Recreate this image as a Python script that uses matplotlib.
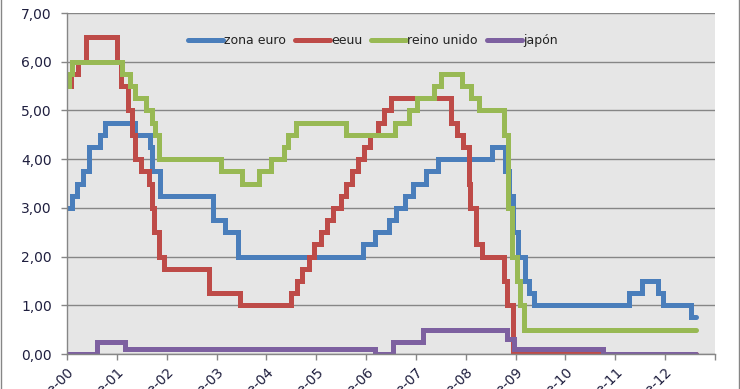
import pandas as pd
import matplotlib
matplotlib.use("Agg")
import matplotlib.pyplot as plt
from matplotlib.lines import Line2D

# fechas de cambio de tipo y nuevo valor (%)
euro_dates = ["2000-01-01", "2000-02-04", "2000-03-17", "2000-04-28", "2000-06-09",
              "2000-09-01", "2000-10-06", "2001-05-11", "2001-08-31", "2001-09-18",
              "2001-11-09", "2002-12-06", "2003-03-07", "2003-06-06", "2005-12-06",
              "2006-03-08", "2006-06-15", "2006-08-09", "2006-10-11", "2006-12-13",
              "2007-03-14", "2007-06-13", "2008-07-09", "2008-10-15", "2008-11-12",
              "2008-12-10", "2009-01-21", "2009-03-11", "2009-04-08", "2009-05-13",
              "2011-04-13", "2011-07-13", "2011-11-09", "2011-12-14", "2012-07-11",
              "2012-08-15"]
euro_vals = [3.00, 3.25, 3.50, 3.75, 4.25, 4.50, 4.75, 4.50, 4.25, 3.75,
             3.25, 2.75, 2.50, 2.00, 2.25, 2.50, 2.75, 3.00, 3.25, 3.50,
             3.75, 4.00, 4.25, 3.75, 3.25, 2.50, 2.00, 1.50, 1.25, 1.00,
             1.25, 1.50, 1.25, 1.00, 0.75, 0.75]

usa_dates = ["2000-01-01", "2000-02-02", "2000-03-21", "2000-05-16", "2001-01-03",
             "2001-01-31", "2001-03-20", "2001-04-18", "2001-05-15", "2001-06-27",
             "2001-08-21", "2001-09-17", "2001-10-02", "2001-11-06", "2001-12-11",
             "2002-11-06", "2003-06-25", "2004-06-30", "2004-08-10", "2004-09-21",
             "2004-11-10", "2004-12-14", "2005-02-02", "2005-03-22", "2005-05-03",
             "2005-06-30", "2005-08-09", "2005-09-20", "2005-11-01", "2005-12-13",
             "2006-01-31", "2006-03-28", "2006-05-10", "2006-06-29", "2007-09-18",
             "2007-10-31", "2007-12-11", "2008-01-22", "2008-01-30", "2008-03-18",
             "2008-04-30", "2008-10-08", "2008-10-29", "2008-12-16", "2012-08-15"]
usa_vals = [5.50, 5.75, 6.00, 6.50, 6.00, 5.50, 5.00, 4.50, 4.00, 3.75,
            3.50, 3.00, 2.50, 2.00, 1.75, 1.25, 1.00, 1.25, 1.50, 1.75,
            2.00, 2.25, 2.50, 2.75, 3.00, 3.25, 3.50, 3.75, 4.00, 4.25,
            4.50, 4.75, 5.00, 5.25, 4.75, 4.50, 4.25, 3.50, 3.00, 2.25,
            2.00, 1.50, 1.00, 0.00, 0.00]

uk_dates = ["2000-01-01", "2000-01-13", "2000-02-10", "2001-02-08", "2001-04-05",
            "2001-05-10", "2001-08-02", "2001-09-18", "2001-10-04", "2001-11-08",
            "2003-02-06", "2003-07-10", "2003-11-06", "2004-02-05", "2004-05-06",
            "2004-06-10", "2004-08-05", "2005-08-04", "2006-08-03", "2006-11-09",
            "2007-01-11", "2007-05-10", "2007-07-05", "2007-12-06", "2008-02-07",
            "2008-04-10", "2008-10-08", "2008-11-06", "2008-12-04", "2009-01-08",
            "2009-02-05", "2009-03-05", "2012-08-15"]
uk_vals = [5.50, 5.75, 6.00, 5.75, 5.50, 5.25, 5.00, 4.75, 4.50, 4.00,
           3.75, 3.50, 3.75, 4.00, 4.25, 4.50, 4.75, 4.50, 4.75, 5.00,
           5.25, 5.50, 5.75, 5.50, 5.25, 5.00, 4.50, 3.00, 2.00, 1.50,
           1.00, 0.50, 0.50]

jp_dates = ["2000-01-01", "2000-08-11", "2001-02-28", "2006-03-09", "2006-07-14",
            "2007-02-21", "2008-10-31", "2008-12-19", "2010-10-05", "2012-08-15"]
jp_vals = [0.00, 0.25, 0.10, 0.00, 0.25, 0.50, 0.30, 0.10, 0.00, 0.00]

names = ["zona euro", "eeuu", "reino unido", "japón"]
colors = ["#4A7EBB", "#BE4B48", "#98B954", "#7D60A0"]

years = list(range(2000, 2014))
year_labels = ["ene-%02d" % (y % 100) for y in years[:-1]] + [""]

fig = plt.figure(figsize=(7.4, 3.89), dpi=100)
ax = fig.add_axes([67 / 740, 1 - 354 / 389, 648 / 740, 341 / 389])
ax.set_facecolor("#E6E6E6")

series = [(euro_dates, euro_vals), (usa_dates, usa_vals),
          (uk_dates, uk_vals), (jp_dates, jp_vals)]
for (d, v), name, c in zip(series, names, colors):
    ax.plot(pd.to_datetime(d), v, drawstyle="steps-post", color=c, lw=3.6,
            label=name, solid_capstyle="round", solid_joinstyle="miter")

ax.set_ylim(0, 7)
ax.set_yticks(range(8))
ax.set_yticklabels(["%d,00" % i for i in range(8)])
ax.set_xlim(pd.Timestamp("2000-01-01"), pd.Timestamp("2013-01-01"))
ax.set_xticks([pd.Timestamp("%d-01-01" % y) for y in years])
ax.set_xticklabels(year_labels, rotation=45, ha="right", rotation_mode="anchor")

ax.grid(axis="y", color="#868686", lw=1)
ax.set_axisbelow(True)
for s in ["top", "right"]:
    ax.spines[s].set_visible(False)
for s in ["left", "bottom"]:
    ax.spines[s].set_color("#868686")
    ax.spines[s].set_linewidth(1)
ax.tick_params(axis="both", colors="#868686", length=4, width=1,
               labelcolor="#1F1F3F", labelsize=10)
ax.tick_params(axis="y", pad=7)
ax.tick_params(axis="x", pad=4)

handles = [Line2D([], [], color=c, lw=3.6, solid_capstyle="round") for c in colors]
ax.legend(handles, names, loc="center", bbox_to_anchor=(0.472, 0.918), ncol=4,
          frameon=False, fontsize=9, handlelength=2.8, handletextpad=0.1,
          columnspacing=0.7, labelcolor="#222222")

# borde del área del gráfico
fig.add_artist(Line2D([0.001, 0.001], [0, 1], color="#868686", lw=1,
                      transform=fig.transFigure))
fig.add_artist(Line2D([0.999, 0.999], [0, 1], color="#868686", lw=1,
                      transform=fig.transFigure))

fig.savefig("out.png", dpi=100)
